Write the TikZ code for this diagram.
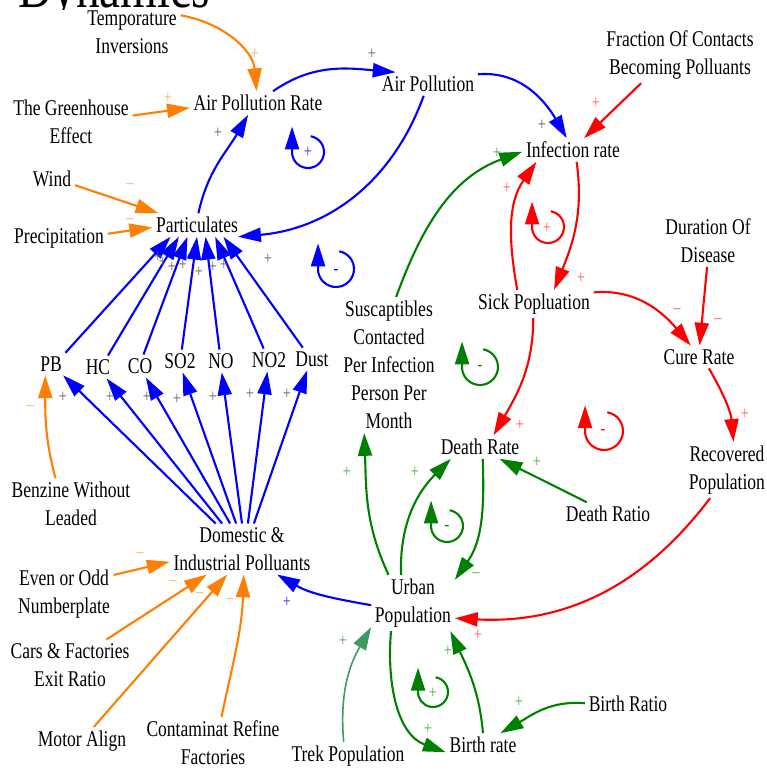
\documentclass[tikz,border=0pt]{standalone}
\usepackage{fontspec}
\setmainfont{Liberation Serif}[FakeStretch=0.78]
\usetikzlibrary{arrows.meta}

\definecolor{vorange}{RGB}{255,128,0}
\definecolor{vblue}{RGB}{0,0,255}
\definecolor{vred}{RGB}{255,0,0}
\definecolor{vgreen}{RGB}{0,128,0}
\definecolor{vtrek}{RGB}{60,155,95}
\definecolor{markgray}{RGB}{95,95,95}
\definecolor{markorange}{RGB}{255,175,100}
\definecolor{markred}{RGB}{255,90,90}
\definecolor{markgreen}{RGB}{70,170,70}
\definecolor{markblue}{RGB}{40,40,255}

\begin{document}
\begin{tikzpicture}
  [x=0.02cm,y=-0.02cm,
   every node/.style={align=center,inner sep=2pt,font=\fontsize{12.8}{16}\selectfont},
   link/.style={line width=1.2pt,-{Triangle[length=13pt,width=8pt]}},
   orangelink/.style={link,draw=vorange},
   bluelink/.style={link,draw=vblue},
   redlink/.style={link,draw=vred},
   greenlink/.style={link,draw=vgreen},
   treklink/.style={link,draw=vtrek,line width=0.9pt},
   pol/.style={inner sep=0pt,font=\fontsize{10.5}{10.5}\selectfont}]
  \useasboundingbox (0,0) rectangle (767,769);

  \begin{scope}
    \clip (0,0) rectangle (767,9);
    \node[anchor=base west,inner sep=0pt,font=\fontsize{34.5}{40}\selectfont] (title) at (18,7) {Dynamics};
  \end{scope}

  \node (TempInv) at (132,32) {Temporature\\Inversions};
  \node (APR) at (258,103) {Air Pollution Rate};
  \node (Greenhouse) at (71,122) {The Greenhouse\\Effect};
  \node (AirPol) at (428,84) {Air Pollution};
  \node (Fraction) at (680,55) {Fraction Of Contacts\\Becoming Polluants};
  \node (Infection) at (573,150) {Infection rate};
  \node (Wind) at (52,179) {Wind};
  \node (Particulates) at (197,225) {Particulates};
  \node (Precip) at (59,238) {Precipitation};
  \node (Duration) at (708,241) {Duration Of\\Disease};
  \node (Sick) at (534,304) {Sick Popluation};
  \node (Cure) at (699,357) {Cure Rate};
  \node (Suscaptibles) at (389,365) {Suscaptibles\\Contacted\\Per Infection\\Person Per\\Month};
  \node (PB) at (51,364) {PB};
  \node (HC) at (98,367) {HC};
  \node (CO) at (140,366) {CO};
  \node (SO2) at (180,361) {SO2};
  \node (NO) at (221,361) {NO};
  \node (NO2) at (269,360) {NO2};
  \node (Dust) at (312,359) {Dust};
  \node (Death) at (480,447) {Death Rate};
  \node (Recovered) at (727,470) {Recovered\\Population};
  \node (Benzine) at (71,504) {Benzine Without\\Leaded};
  \node (DeathRatio) at (608,514) {Death Ratio};
  \node (Domestic) at (242,549) {Domestic \&\\Industrial Polluants};
  \node (EvenOdd) at (64,594) {Even or Odd\\Numberplate};
  \node (Urban) at (413,603) {Urban\\Population};
  \node (Cars) at (70,665) {Cars \& Factories\\Exit Ratio};
  \node (BirthRatio) at (628,704) {Birth Ratio};
  \node (MotorAlign) at (82,741) {Motor Align};
  \node (Contaminat) at (213,743) {Contaminat Refine\\Factories};
  \node (Trek) at (348,756) {Trek Population};
  \node (Birth) at (483,745) {Birth rate};

  % pollution side
  \draw[orangelink] (TempInv.19) to[out=-10,in=95] (APR.97);
  \draw[orangelink] (Greenhouse.6) -- (APR.184);
  \draw[orangelink] (Wind.-15) -- (Particulates.163);
  \draw[orangelink] (Precip.5) -- (Particulates.183);
  \draw[orangelink] (Benzine.121) to[out=105,in=-90] (PB.243);
  \draw[orangelink] (EvenOdd.21) -- (Domestic.190);
  \draw[orangelink] (Cars.35) -- (Domestic.216);
  \draw[orangelink] (MotorAlign.50) -- (Domestic.240);
  \draw[orangelink] (Contaminat.72) to[out=78,in=-92] (Domestic.-86);

  \draw[bluelink] (Particulates.83) to[out=78,in=-120] (APR.230);
  \draw[bluelink] (APR.38) to[out=35,in=175] (AirPol.160);
  \draw[bluelink] (AirPol.11) to[out=5,in=120] (Infection.118);
  \draw[bluelink] (AirPol.250) to[out=-110,in=5] (Particulates.-16);
  \draw[bluelink] (Urban.183) to[out=170,in=-30] (Domestic.-36);
  \foreach \gas/\sa/\ea in {PB/38/204, HC/49/213, CO/73/231, SO2/81/270, NO/98/306, NO2/115/327, Dust/129/336}
    \draw[bluelink] (\gas.\sa) -- (Particulates.\ea);
  \foreach \gas/\sa/\ea in {PB/136/-43, HC/128/-53, CO/115/-63, SO2/103/-77, NO/90/-86, NO2/77/-98, Dust/65/-113}
    \draw[bluelink] (Domestic.\sa) -- (\gas.\ea);

  % disease side
  \draw[redlink] (Fraction.216) -- (Infection.47);
  \draw[redlink] (Infection.-73) to[out=-82,in=68] (Sick.35);
  \draw[redlink] (Sick.140) to[out=100,in=-125] (Infection.198);
  \draw[redlink] (Sick.11) to[out=5,in=130] (Cure.126);
  \draw[redlink] (Duration.268) -- (Cure.87);
  \draw[redlink] (Sick.267) to[out=-90,in=60] (Death.41);
  \draw[redlink] (Cure.-49) to[out=-60,in=95] (Recovered.77);
  \draw[redlink] (Recovered.239) to[out=-127,in=-3] (Urban.-20);

  \draw[greenlink] (Suscaptibles.84) to[out=70,in=200] (Infection.182);
  \draw[greenlink] (Urban.131) to[out=115,in=-88] (Suscaptibles.250);
  \draw[greenlink] (Urban.113) to[out=92,in=-135] (Death.202);
  \draw[greenlink] (Death.-77) to[out=-88,in=55] (Urban.29);
  \draw[greenlink] (DeathRatio.151) -- (Death.-31);
  \draw[greenlink] (Urban.232) to[out=-95,in=160] (Birth.191);
  \draw[greenlink] (Birth.90) to[out=95,in=-65] (Urban.-37);
  \draw[greenlink] (BirthRatio.179) to[out=175,in=30] (Birth.34);
  \draw[treklink] (Trek.107) to[out=95,in=-120] (Urban.210);

  % loops
  \coordinate (loopA) at (308,152);
  \coordinate (loopB) at (336,269);
  \coordinate (loopC) at (548,227);
  \coordinate (loopD) at (480,367);
  \coordinate (loopE) at (604,431);
  \coordinate (loopF) at (447,526);
  \coordinate (loopG) at (433,692);
  \draw[bluelink] (loopA) ++(80:0.32cm) arc[start angle=80,end angle=-185,radius=0.32cm] -- ++(0,-24);
  \draw[bluelink] (loopB) ++(80:0.36cm) arc[start angle=80,end angle=-185,radius=0.36cm] -- ++(0,-24);
  \draw[redlink] (loopC) ++(80:0.32cm) arc[start angle=80,end angle=-185,radius=0.32cm] -- ++(0,-24);
  \draw[greenlink] (loopD) ++(80:0.36cm) arc[start angle=80,end angle=-185,radius=0.36cm] -- ++(0,-24);
  \draw[redlink] (loopE) ++(80:0.38cm) arc[start angle=80,end angle=-185,radius=0.38cm] -- ++(0,-24);
  \draw[greenlink] (loopF) ++(80:0.32cm) arc[start angle=80,end angle=-185,radius=0.32cm] -- ++(0,-24);
  \draw[greenlink] (loopG) ++(80:0.30cm) arc[start angle=80,end angle=-185,radius=0.30cm] -- ++(0,-23);

  % polarities
  \foreach \x/\y [count=\i] in {218/133, 372/54, 542/125, 268/259, 158/257, 163/262, 172/267, 183/265, 199/272, 213/267, 224/265, 63/397, 110/397, 147/397, 177/399, 213/397, 250/394, 287/394}
    \node[pol,text=markgray] (gp\i) at (\x,\y) {+};
  \foreach \x/\y [count=\i] in {255/54, 168/98}
    \node[pol,text=markorange] (op\i) at (\x,\y) {+};
  \foreach \x/\y [count=\i] in {130/186, 130/221, 30/408, 140/555, 173/583, 200/595, 230/601}
    \node[pol,text=markorange] (om\i) at (\x,\y) {–};
  \foreach \x/\y [count=\i] in {596/103, 507/188, 547/228, 581/278, 520/425, 745/414, 478/635}
    \node[pol,text=markred] (rp\i) at (\x,\y) {+};
  \foreach \x/\y [count=\i] in {677/311, 718/321}
    \node[pol,text=markred] (rm\i) at (\x,\y) {–};
  \node[pol,text=vred] (rl1) at (603,432) {-};
  \foreach \x/\y [count=\i] in {497/153, 347/472, 415/472, 537/462, 448/651, 428/729, 519/702, 343/641, 433/693}
    \node[pol,text=markgreen] (ggp\i) at (\x,\y) {+};
  \node[pol,text=markgreen] (ggm1) at (476,575) {–};
  \node[pol,text=vgreen] (gl1) at (480,368) {-};
  \node[pol,text=vgreen] (gl2) at (447,528) {-};
  \node[pol,text=markblue] (bp1) at (308,152) {+};
  \node[pol,text=markblue] (bp2) at (287,602) {+};
  \node[pol,text=vblue] (bl1) at (336,272) {-};
\end{tikzpicture}
\end{document}
